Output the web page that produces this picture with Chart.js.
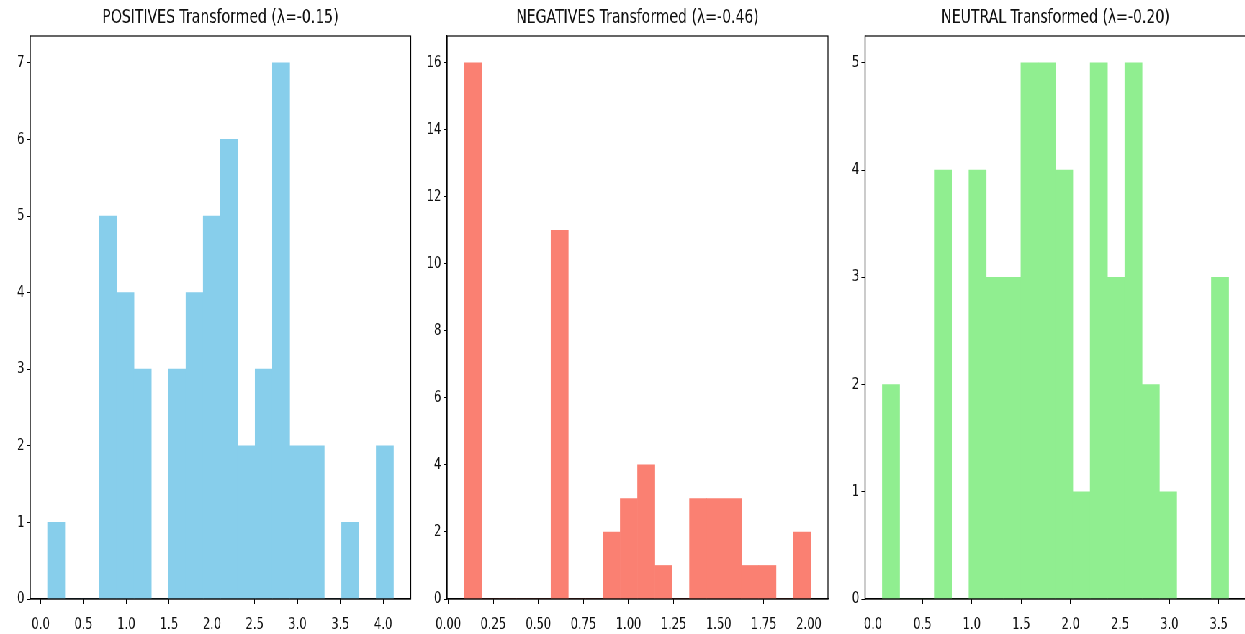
<!DOCTYPE html>
<html>
<head>
<meta charset="utf-8">
<script src="https://cdn.jsdelivr.net/npm/chart.js@4.4.1/dist/chart.umd.min.js"></script>
<style>
    html, body { margin: 0; padding: 0; background: #fff; overflow: hidden; }
    #wrap { position: relative; width: 1753px; height: 634px; transform: scaleX(0.72); transform-origin: 0 0; }
    .panel { position: absolute; top: 0; height: 634px; }
</style>
</head>
<body>
<div id="wrap">
    <div class="panel" style="left:0px;width:583px"><canvas id="posChart"></canvas></div>
    <div class="panel" style="left:583px;width:581px"><canvas id="negChart"></canvas></div>
    <div class="panel" style="left:1164px;width:589px"><canvas id="neuChart"></canvas></div>
</div>
<script>
// histogram counts, 20 bins each, bins span [min, max]
const posCounts = [1, 0, 0, 5, 4, 3, 0, 3, 4, 5, 6, 2, 3, 7, 2, 2, 0, 1, 0, 2];
const posRange = [0.08, 4.12];
const negCounts = [16, 0, 0, 0, 0, 11, 0, 0, 2, 3, 4, 1, 0, 3, 3, 3, 1, 1, 0, 2];
const negRange = [0.09, 2.01];
const neuCounts = [2, 0, 0, 4, 0, 4, 3, 3, 5, 5, 4, 1, 5, 3, 5, 2, 1, 0, 0, 3];
const neuRange = [0.094, 3.6];

const posXTicks = [0, 0.5, 1, 1.5, 2, 2.5, 3, 3.5, 4];
const posYTicks = [0, 1, 2, 3, 4, 5, 6, 7];
const negXTicks = [0, 0.25, 0.5, 0.75, 1, 1.25, 1.5, 1.75, 2];
const negYTicks = [0, 2, 4, 6, 8, 10, 12, 14, 16];
const neuXTicks = [0, 0.5, 1, 1.5, 2, 2.5, 3, 3.5];
const neuYTicks = [0, 1, 2, 3, 4, 5];

const titles = [
    'POSITIVES Transformed (\u03bb=-0.15)',
    'NEGATIVES Transformed (\u03bb=-0.46)',
    'NEUTRAL Transformed (\u03bb=-0.20)'
];
const colors = ['#87CEEB', '#FA8072', '#90EE90'];

const fontFamily = "'DejaVu Sans', sans-serif";

// frame around the axes + title centred on the plot area
const axesFrame = {
    id: 'axesFrame',
    afterDraw: function (chart, args, options) {
        var ctx = chart.ctx;
        var a = chart.chartArea;
        ctx.save();
        ctx.strokeStyle = '#000';
        ctx.lineWidth = 1.2;
        ctx.strokeRect(a.left, a.top, a.right - a.left, a.bottom - a.top);
        ctx.fillStyle = '#111';
        ctx.font = '19.5px ' + fontFamily;
        ctx.textAlign = 'center';
        ctx.textBaseline = 'middle';
        ctx.fillText(options.text, (a.left + a.right) / 2, 18);
        ctx.restore();
    }
};

function makeHist(canvasId, counts, range, xTicks, yTicks, decimals, color, title, yWidth, padRight) {
    var binW = (range[1] - range[0]) / counts.length;
    var points = counts.map(function (c, i) {
        return { x: range[0] + binW * (i + 0.5), y: c };
    });
    var span = range[1] - range[0];
    var yMax = Math.max.apply(null, counts) * 1.05;

    return new Chart(document.getElementById(canvasId), {
        type: 'bar',
        data: {
            datasets: [{
                data: points,
                backgroundColor: color,
                borderWidth: 0,
                barPercentage: 1,
                categoryPercentage: 1
            }]
        },
        options: {
            responsive: true,
            maintainAspectRatio: false,
            animation: false,
            layout: { padding: { left: 0, right: padRight, top: 36, bottom: 0 } },
            plugins: {
                legend: { display: false },
                tooltip: { enabled: false },
                axesFrame: { text: title }
            },
            scales: {
                x: {
                    type: 'linear',
                    offset: false,
                    min: range[0] - span * 0.05,
                    max: range[1] + span * 0.05,
                    grid: { offset: false, drawOnChartArea: false, drawTicks: true, tickLength: 5, color: '#000', lineWidth: 1 },
                    border: { display: true, color: '#000', width: 1.2 },
                    ticks: {
                        color: '#111',
                        padding: 11,
                        maxRotation: 0,
                        font: { family: fontFamily, size: 16 },
                        callback: function (v) { return Number(v).toFixed(decimals); }
                    },
                    afterBuildTicks: function (scale) {
                        scale.ticks = xTicks.map(function (v) { return { value: v }; });
                    },
                    afterFit: function (scale) { scale.height = 35; }
                },
                y: {
                    min: 0,
                    max: yMax,
                    grid: { drawOnChartArea: false, drawTicks: true, tickLength: 5, color: '#000', lineWidth: 1 },
                    border: { display: true, color: '#000', width: 1.2 },
                    ticks: {
                        color: '#111',
                        padding: 3,
                        font: { family: fontFamily, size: 16 },
                        callback: function (v) { return String(v); }
                    },
                    afterBuildTicks: function (scale) {
                        scale.ticks = yTicks.map(function (v) { return { value: v }; });
                    },
                    afterFit: function (scale) { scale.width = yWidth; }
                }
            }
        },
        plugins: [axesFrame]
    });
}

makeHist('posChart', posCounts, posRange, posXTicks, posYTicks, 1, colors[0], titles[0], 42, 12.5);
makeHist('negChart', negCounts, negRange, negXTicks, negYTicks, 2, colors[1], titles[1], 38, 14);
makeHist('neuChart', neuCounts, neuRange, neuXTicks, neuYTicks, 1, colors[2], titles[2], 37.4, 22.4);
</script>
</body>
</html>
